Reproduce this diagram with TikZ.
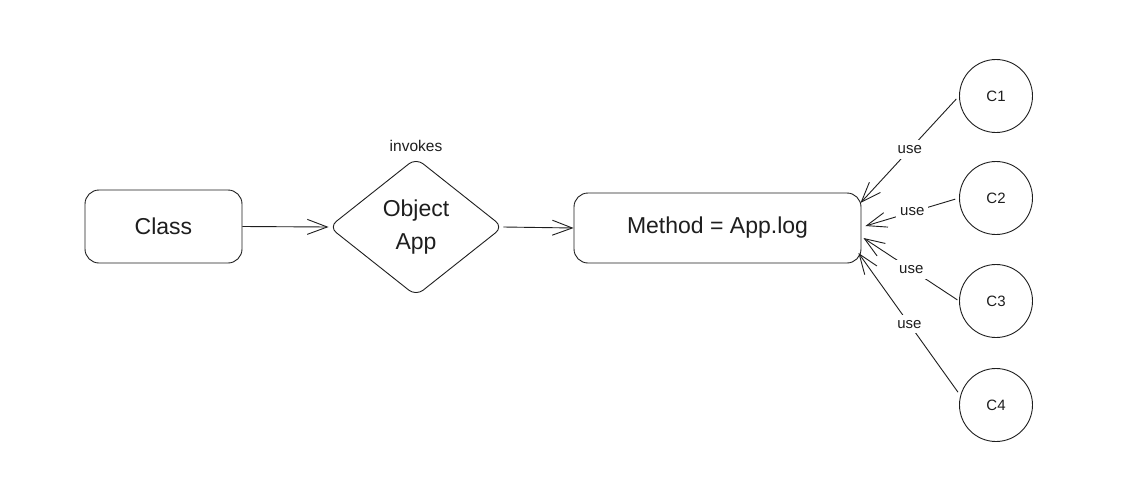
\documentclass[tikz,border=0pt]{standalone}
\usepackage{fontspec}
\setmainfont{Liberation Sans}
\usetikzlibrary{shapes.geometric,arrows.meta,calc}
\definecolor{ink}{HTML}{1E1E1E}
\tikzset{
  box/.style={draw=ink, line width=0.9pt, rounded corners=14pt, text=ink,
              font=\fontsize{23}{27}\selectfont, inner sep=0pt},
  decision/.style={draw=ink, line width=0.9pt, diamond, rounded corners=9pt,
              minimum width=174pt, minimum height=138pt, inner sep=0pt,
              text=ink, align=center, font=\fontsize{23}{33}\selectfont},
  client/.style={draw=ink, line width=0.9pt, circle, minimum size=73pt,
              inner sep=0pt, text=ink, font=\fontsize{15}{18}\selectfont},
  flow/.style={-{Straight Barb[length=20pt,width=15pt]}, draw=ink, line width=0.9pt},
  lbl/.style={fill=white, inner xsep=4pt, inner ysep=5pt, text=ink,
              font=\fontsize{15}{18}\selectfont},
  note/.style={text=ink, font=\fontsize{15.5}{18}\selectfont},
}
\begin{document}
\begin{tikzpicture}[x=1pt, y=-1pt]
  \path[fill=white] (0,0) rectangle (1133,498);
  \useasboundingbox (0,0) rectangle (1133,498);

  % main chain
  \node[box, minimum width=157pt, minimum height=73pt] (cls) at (163.5,226.5) {Class};
  \node[decision] (obj) at (416,227) {Object\\App};
  \node[note] (inv) at (416,146) {invokes};
  \node[box, minimum width=287pt, minimum height=70pt] (m) at (717.5,228) {Method = App.log};

  % clients
  \node[client] (c1) at (996,96)  {C1};
  \node[client] (c2) at (996,198) {C2};
  \node[client] (c3) at (996,301) {C3};
  \node[client] (c4) at (996,405) {C4};

  % arrow targets on the method box
  \coordinate (t1) at ($(m.east)+(-1,-25)$);
  \coordinate (t2) at ($(m.east)+(4,-2)$);
  \coordinate (t3) at ($(m.east)+(2,10)$);
  \coordinate (t4) at ($(m.east)+(-3,25)$);

  \draw[flow] (cls.east) -- (obj.west);
  \draw[flow] (obj.east) -- (m.west);

  \draw[flow, shorten <=4pt] (c1.west) -- node[lbl] {use} (t1);
  \draw[flow, shorten <=4pt] (c2.west) -- node[lbl] {use} (t2);
  \draw[flow, shorten <=2pt] (c3.west) -- node[lbl] {use} (t3);
  \draw[flow, shorten <=4pt] (c4.165) -- node[lbl] {use} (t4);
\end{tikzpicture}
\end{document}
